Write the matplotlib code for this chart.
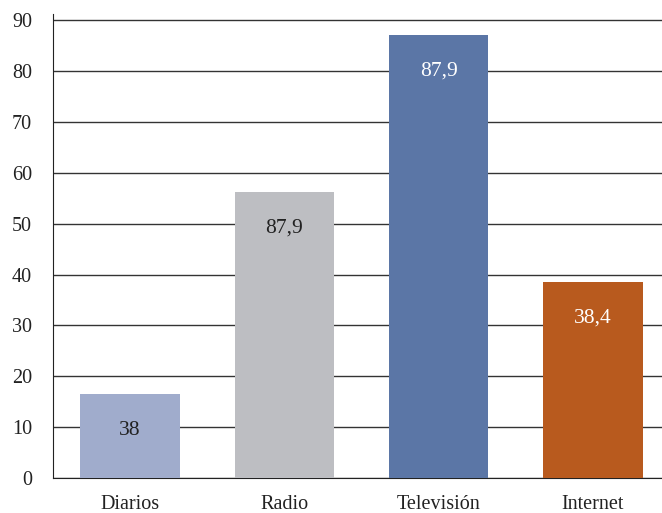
import matplotlib.pyplot as plt

# Data
categories = ['Diarios', 'Radio', 'Televisión', 'Internet']
heights = [16.5, 56.2, 87.1, 38.5]
labels = ['38', '87,9', '87,9', '38,4']
colors = ['#A0ACCC', '#BDBEC2', '#5B76A6', '#B85A1E']
label_colors = ['#222222', '#222222', 'white', 'white']

plt.rcParams['font.family'] = ['Liberation Serif', 'DejaVu Serif']

fig = plt.figure(figsize=(6.62, 5.13), dpi=100)
ax = fig.add_axes([0.080, 0.0682, 0.932, 0.9045])

x = range(len(categories))
bars = ax.bar(x, heights, width=0.645, color=colors, zorder=3)

for bar, lab, c in zip(bars, labels, label_colors):
    ax.annotate(lab, (bar.get_x() + bar.get_width() / 2, bar.get_height()),
                xytext=(0, -26), textcoords='offset points',
                ha='center', va='center', fontsize=15.5, color=c, zorder=4)

ax.set_xlim(-0.5, 3.5)
ax.set_ylim(0, 91.2)
ax.set_yticks(range(0, 91, 10))
ax.yaxis.grid(True, color='#333333', linewidth=1.0, zorder=0)
ax.set_axisbelow(True)

ax.set_xticks(list(x))
ax.set_xticklabels(categories)
ax.tick_params(axis='both', length=0, labelsize=14.5, colors='#222222')
ax.tick_params(axis='x', pad=12)
ax.tick_params(axis='y', pad=15)

for side in ['top', 'right']:
    ax.spines[side].set_visible(False)
ax.spines['left'].set_color('#222222')
ax.spines['bottom'].set_color('#222222')

fig.savefig('out.png', dpi=100)
